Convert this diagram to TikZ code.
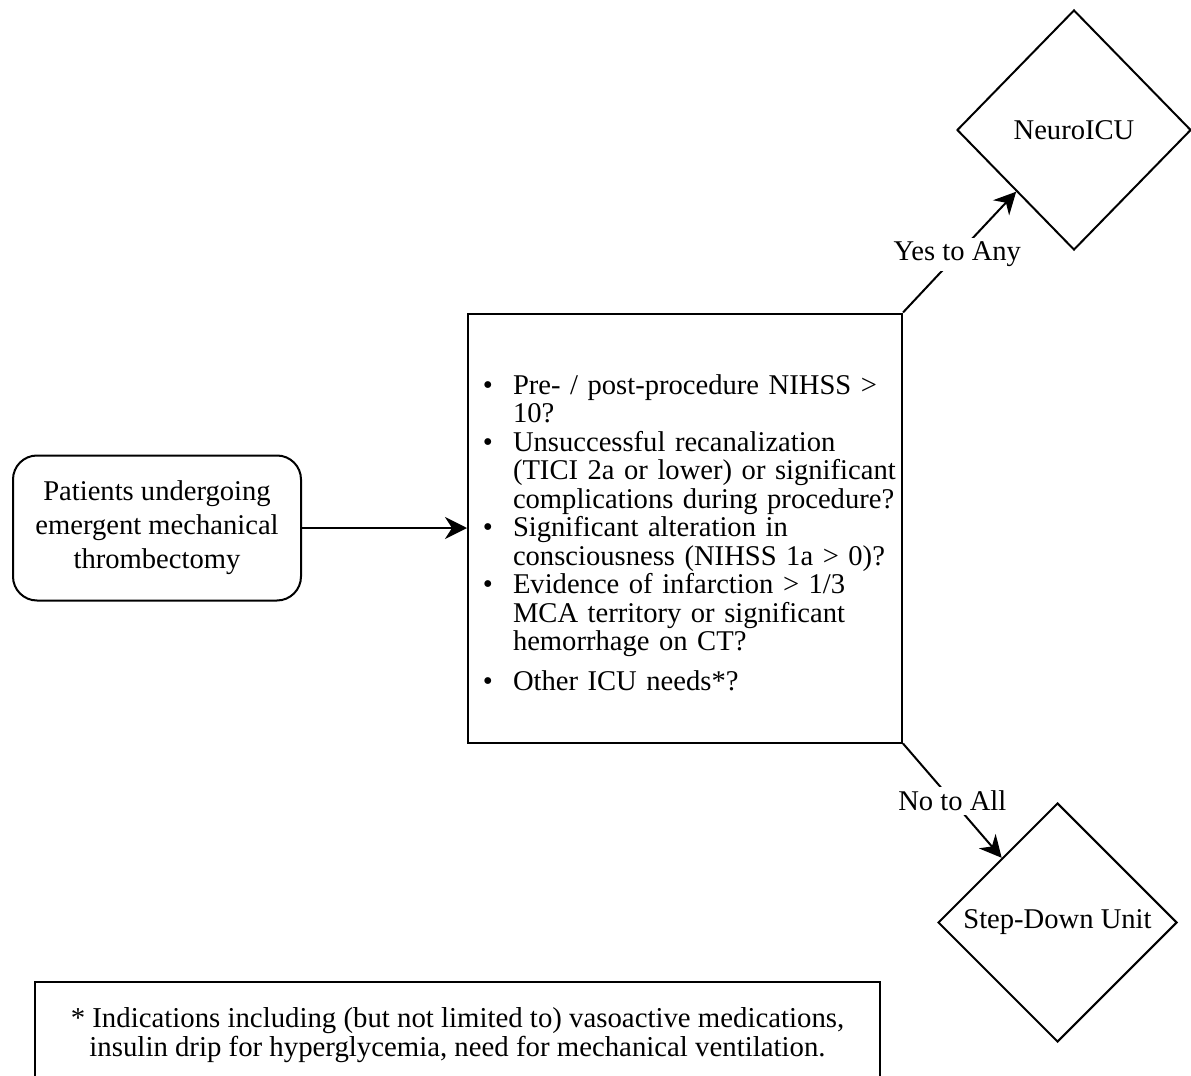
\documentclass[tikz,border=0pt]{standalone}
\usepackage{fontspec}
\setmainfont{Liberation Serif}
\usepackage{enumitem}
\usetikzlibrary{shapes.geometric,arrows.meta}

\tikzset{
  startbox/.style={draw, line width=1pt, rounded corners=12pt, minimum width=144pt,
    minimum height=72.5pt, align=center, font=\fontsize{14.3}{17}\selectfont},
  checkbox/.style={draw, line width=1pt, minimum width=217pt, minimum height=214.5pt,
    text width=212pt, inner xsep=2.5pt, align=left, font=\fontsize{14.3}{14.25}\selectfont},
  unitbox/.style={draw, diamond, line width=1pt, inner sep=0pt, font=\fontsize{14.3}{17}\selectfont},
  notebox/.style={draw, line width=1pt, anchor=north, minimum width=422.5pt,
    minimum height=53pt, align=center, font=\fontsize{14.4}{14.5}\selectfont},
  flow/.style={line width=1pt, -{Stealth[length=11pt,width=11pt,inset=3.5pt]}},
  answer/.style={fill=white, inner sep=2pt, font=\fontsize{14.3}{17}\selectfont}
}

\begin{document}
\begin{tikzpicture}[x=0.5pt,y=-0.5pt]
\clip[use as bounding box] (0,0) rectangle (1191,1076);

\node[startbox] (patients) at (157,528) {Patients undergoing\\ emergent mechanical\\ thrombectomy};

\node[checkbox] (criteria) at (685,528) {%
\begin{itemize}[nosep, leftmargin=20pt, labelsep=10pt]
\item Pre- / post-procedure NIHSS >\newline 10?
\item Unsuccessful recanalization\newline (TICI 2a or lower) or significant\newline complications during procedure?
\item Significant alteration in\newline consciousness (NIHSS 1a > 0)?
\item Evidence of infarction > 1/3\newline MCA territory or significant\newline hemorrhage on CT?
\vspace{5.5pt}
\item Other ICU needs*?
\end{itemize}};

\node[unitbox, minimum width=117pt, minimum height=120pt] (neuro) at (1074,130) {NeuroICU};
\node[unitbox, minimum width=119.5pt, minimum height=119.5pt] (stepdown) at (1057.5,922.5) {Step-Down Unit};

\node[notebox] (footnote) at (457.5,981) {* Indications including (but not limited to) vasoactive medications,\\
insulin drip for hyperglycemia, need for mechanical ventilation.};

\draw[flow] (patients) -- (criteria);
\draw[flow] (criteria.north east) -- node[answer, pos=0.48] {Yes to Any} (neuro);
\draw[flow] (criteria.south east) -- node[answer, pos=0.5] {No to All} (stepdown);
\end{tikzpicture}
\end{document}
